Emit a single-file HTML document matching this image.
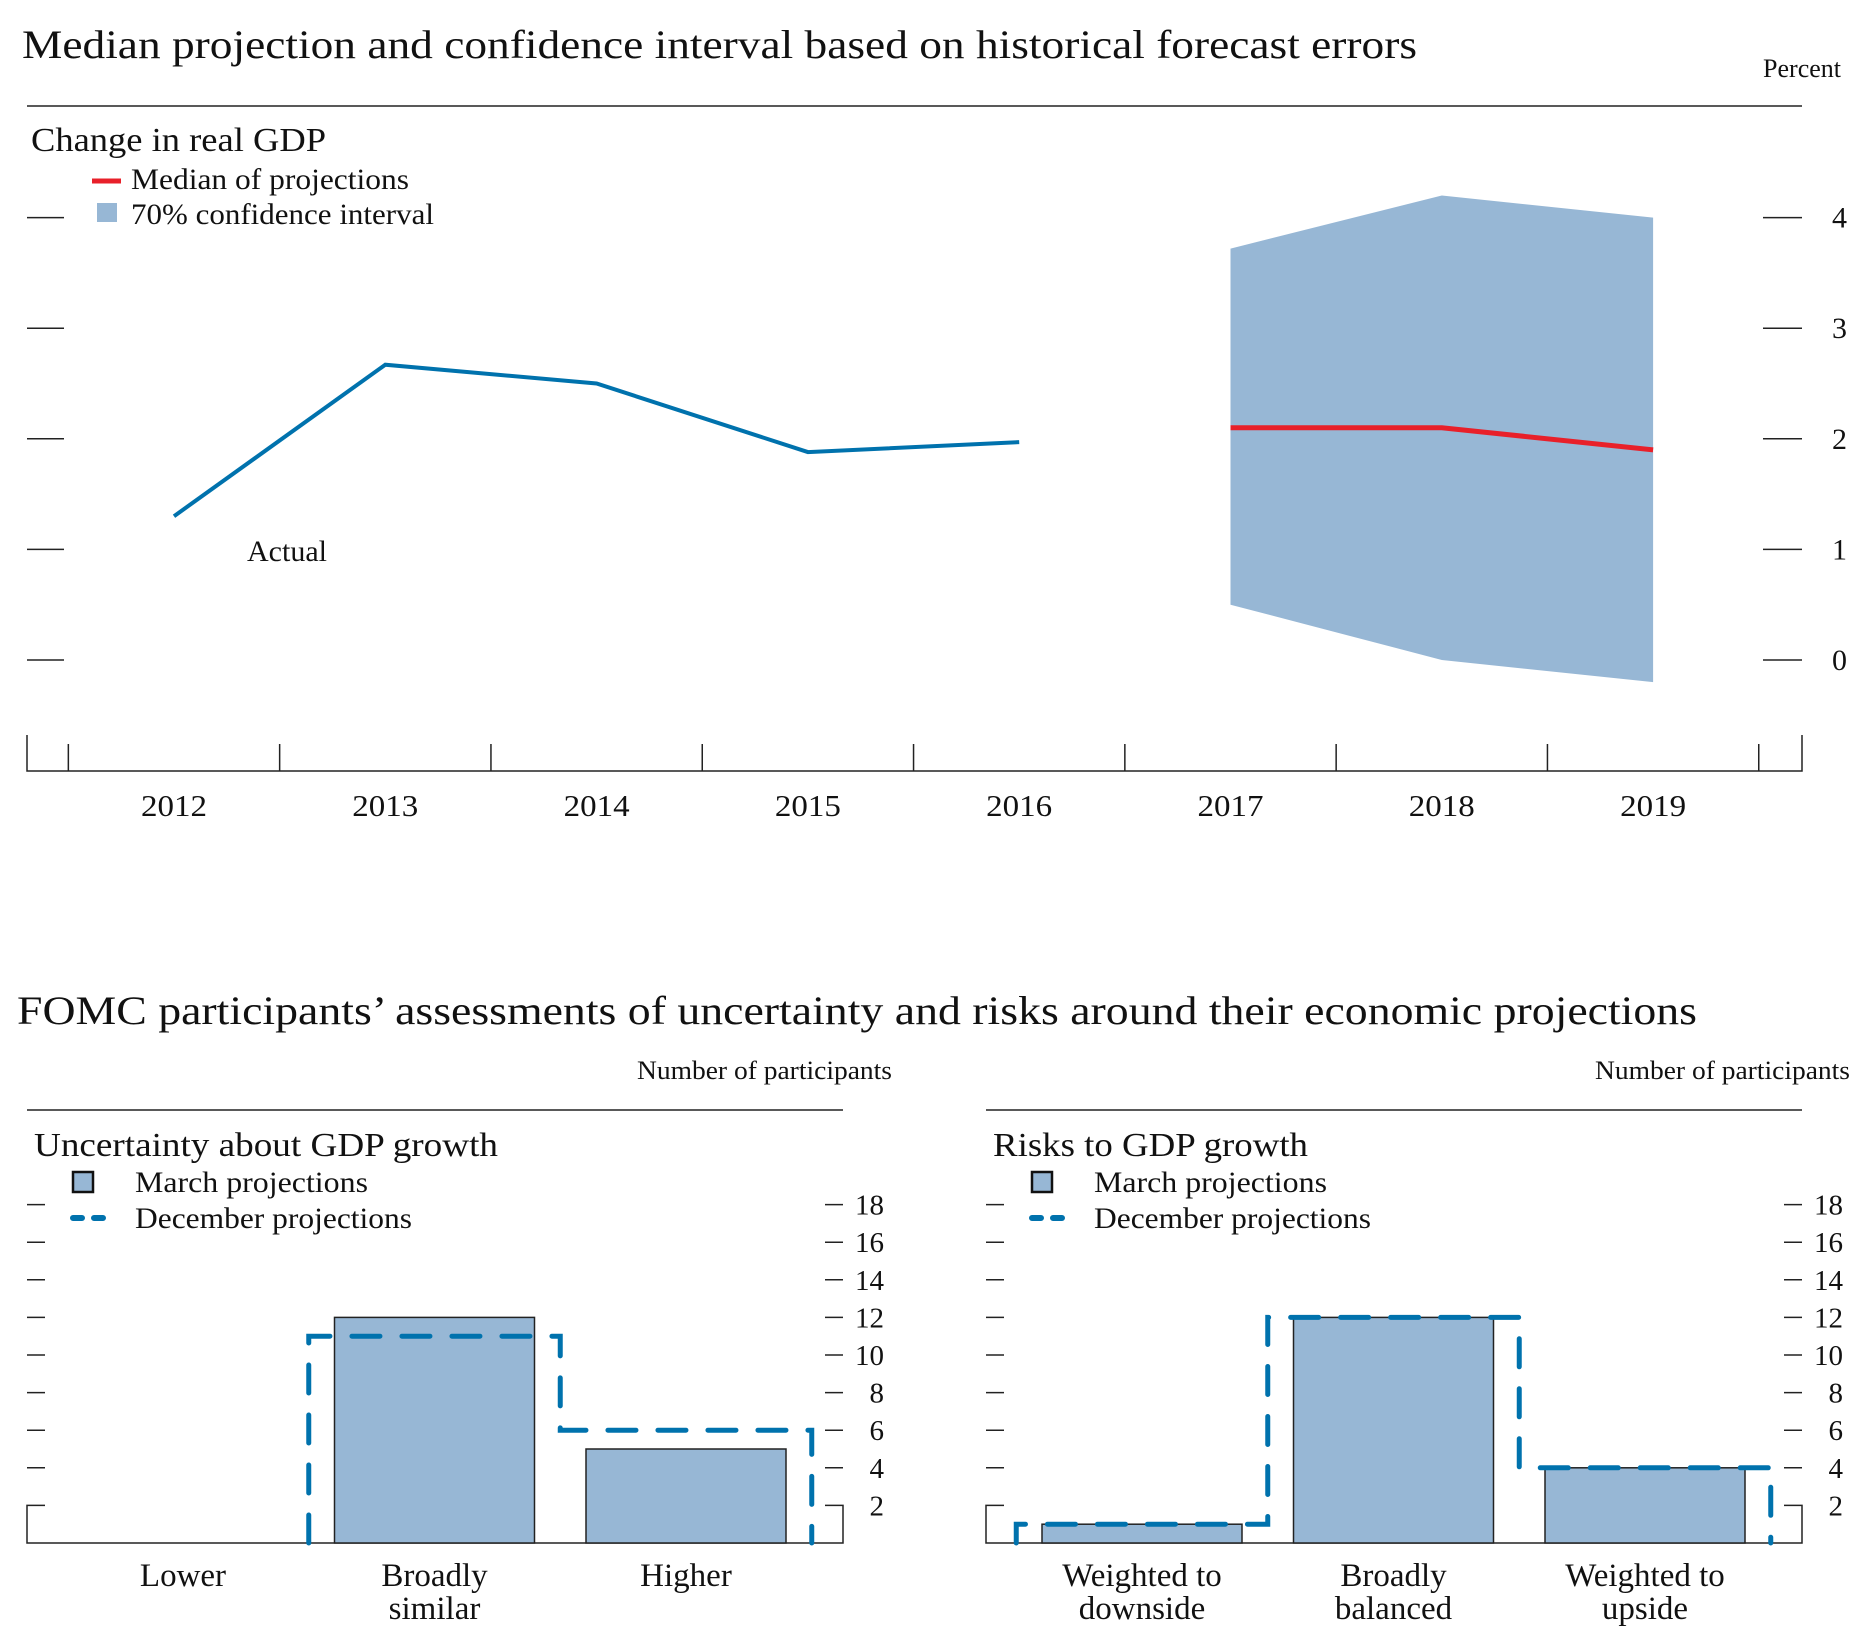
<!DOCTYPE html>
<html><head><meta charset="utf-8"><style>
body{margin:0;background:#fff}
svg text{font-family:"Liberation Serif",serif;fill:#111}
</style></head><body>
<svg id="c" width="1872" height="1630" viewBox="0 0 1872 1630" xmlns="http://www.w3.org/2000/svg">
<text x="22" y="58" font-size="40" textLength="1395" lengthAdjust="spacingAndGlyphs">Median projection and confidence interval based on historical forecast errors</text>
<text x="1841" y="77" font-size="26" text-anchor="end">Percent</text>
<line x1="27" y1="106" x2="1802" y2="106" stroke="#222" stroke-width="1.5"/>
<text x="31" y="151" font-size="34" textLength="295" lengthAdjust="spacingAndGlyphs">Change in real GDP</text>
<g>
<line x1="92" y1="181" x2="121" y2="181" stroke="#e8202a" stroke-width="5"/>
<text x="131" y="189" font-size="30" textLength="278" lengthAdjust="spacingAndGlyphs">Median of projections</text>
<rect x="97" y="203" width="20" height="19" fill="#97b7d5"/>
<text x="131" y="224" font-size="30" textLength="303" lengthAdjust="spacingAndGlyphs">70% confidence interval</text>
</g>
<text x="247" y="561" font-size="30">Actual</text>
<g id="topchart"></g>
<text x="17" y="1024" font-size="40" textLength="1680" lengthAdjust="spacingAndGlyphs">FOMC participants’ assessments of uncertainty and risks around their economic projections</text>
<g id="bl"></g><g id="br"></g>
</svg>
<script>
const NS='http://www.w3.org/2000/svg';
function mk(p,t,a){const e=document.createElementNS(NS,t);for(const k in a)e.setAttribute(k,a[k]);p.appendChild(e);return e;}
// ---- top chart data ----
const years=['2012','2013','2014','2015','2016','2017','2018','2019'];
const actualYears=['2012','2013','2014','2015','2016'];
const actualValues=[1.3,2.67,2.5,1.88,1.97];
const projYears=['2017','2018','2019'];
const medianValues=[2.1,2.1,1.9];
const ciLow=[0.5,0.0,-0.2];
const ciHigh=[3.72,4.2,4.0];
const yTicks=[0,1,2,3,4];
// ---- bottom charts data ----
const uncCategories=[['Lower'],['Broadly','similar'],['Higher']];
const uncMarch=[0,12,5];
const uncDec=[0,11,6];
const riskCategories=[['Weighted to','downside'],['Broadly','balanced'],['Weighted to','upside']];
const riskMarch=[1,12,4];
const riskDec=[1,12,4];
const countTicks=[2,4,6,8,10,12,14,16,18];

const tg=document.getElementById('topchart');
const X=y=>174+years.indexOf(y)*211.3;
const Y=v=>660-v*110.6;
yTicks.forEach(t=>{
  let l=mk(tg,'line',{x1:27,x2:64,y1:Y(t),y2:Y(t),stroke:'#222','stroke-width':1.5});
  
  
  let r=mk(tg,'line',{x1:1763,x2:1802,y1:Y(t),y2:Y(t),stroke:'#222','stroke-width':1.5});
  
  
  let tx=mk(tg,'text',{x:1832,y:Y(t)+10,'font-size':30});tx.textContent=t;
  
  
});
let ax=mk(tg,'path',{d:'M27 735V771H1802V735',fill:'none',stroke:'#222','stroke-width':1.5});


for(let i=0;i<=years.length;i++){
  const x=174-105.65+i*211.3;
  let t=mk(tg,'line',{x1:x,x2:x,y1:744,y2:771,stroke:'#222','stroke-width':1.5});
  
  
}
years.forEach(y=>{let t=mk(tg,'text',{x:X(y),y:816,'font-size':31,'text-anchor':'middle',textLength:66,lengthAdjust:'spacingAndGlyphs'});t.textContent=y;
  
  });
let pts=projYears.map((y,i)=>X(y)+','+Y(ciHigh[i])).concat(projYears.map((y,i)=>X(y)+','+Y(ciLow[i])).reverse());
let band=mk(tg,'polygon',{points:pts.join(' '),fill:'#97b7d5'});


let al=mk(tg,'polyline',{points:actualYears.map((y,i)=>X(y)+','+Y(actualValues[i])).join(' '),fill:'none',stroke:'#0072ad','stroke-width':4});


let ml=mk(tg,'polyline',{points:projYears.map((y,i)=>X(y)+','+Y(medianValues[i])).join(' '),fill:'none',stroke:'#e8202a','stroke-width':5});



function panel(g,x0,title,titleLen,unitRight,cats,march,dec,key){
  const x1=x0+816;
  const Yb=v=>1543-v*18.8;
  let tx=mk(g,'text',{x:unitRight,y:1079,'font-size':26,'text-anchor':'end',textLength:255,lengthAdjust:'spacingAndGlyphs'});tx.textContent='Number of participants';
  
  
  let rl=mk(g,'line',{x1:x0,x2:x1,y1:1110,y2:1110,stroke:'#222','stroke-width':1.5});
  
  
  let tt=mk(g,'text',{x:x0+7,y:1156,'font-size':34,textLength:titleLen,lengthAdjust:'spacingAndGlyphs'});tt.textContent=title;
  
  
  let ls=mk(g,'rect',{x:x0+46,y:1172,width:20,height:20,fill:'#97b7d5',stroke:'#111','stroke-width':2.5});
  
  
  let lt=mk(g,'text',{x:x0+108,y:1192,'font-size':30,textLength:233,lengthAdjust:'spacingAndGlyphs'});lt.textContent='March projections';
  
  
  let ld=mk(g,'line',{x1:x0+46,x2:x0+84,y1:1218,y2:1218,stroke:'#0072ad','stroke-width':6,'stroke-dasharray':'9 12','stroke-linecap':'round'});
  
  
  let lt2=mk(g,'text',{x:x0+108,y:1228,'font-size':30,textLength:277,lengthAdjust:'spacingAndGlyphs'});lt2.textContent='December projections';
  
  
  countTicks.forEach(t=>{
    if(t>2){let a=mk(g,'line',{x1:x0,x2:x0+18,y1:Yb(t),y2:Yb(t),stroke:'#222','stroke-width':1.5});
    
    
    let b=mk(g,'line',{x1:x1-18,x2:x1,y1:Yb(t),y2:Yb(t),stroke:'#222','stroke-width':1.5});
    
    }
    let l=mk(g,'text',{x:x0+857,y:Yb(t)+10,'font-size':29,'text-anchor':'end'});l.textContent=t;
    
    
  });
  let fr=mk(g,'path',{d:`M${x0+18} ${Yb(2)}H${x0}V1543H${x1}V${Yb(2)}H${x1-18}`,fill:'none',stroke:'#222','stroke-width':1.5});
  
  
  const C=i=>x0+156+i*251.5, hw=100, sw=125.75;
  cats.forEach((c,i)=>{
    if(march[i]>0){let r=mk(g,'rect',{x:C(i)-hw,y:Yb(march[i]),width:2*hw,height:1543-Yb(march[i]),fill:'#97b7d5',stroke:'#222','stroke-width':1.5});
      
      }
    c.forEach((s,j)=>{let t=mk(g,'text',{x:C(i),y:1586+j*33,'font-size':33,'text-anchor':'middle'});t.textContent=s;
      
      });
  });
  let d='',prev=0;
  dec.forEach((v,i)=>{const l=C(i)-sw,r=C(i)+sw;
    if(v>0||prev>0){d+=(d?'L':'M')+l+' '+Yb(prev)+'L'+l+' '+Yb(v);}
    if(v>0)d+='L'+r+' '+Yb(v);prev=v;});
  const last=C(dec.length-1)+sw;d+='L'+last+' 1543';
  let dp=mk(g,'path',{d:d,fill:'none',stroke:'#0072ad','stroke-width':5,'stroke-dasharray':'28 22','stroke-linecap':'round'});
  
  
}
panel(document.getElementById('bl'),27,'Uncertainty about GDP growth',464,892,uncCategories,uncMarch,uncDec,'uncertainty');
panel(document.getElementById('br'),986,'Risks to GDP growth',315,1850,riskCategories,riskMarch,riskDec,'risks');
</script>
</body></html>
